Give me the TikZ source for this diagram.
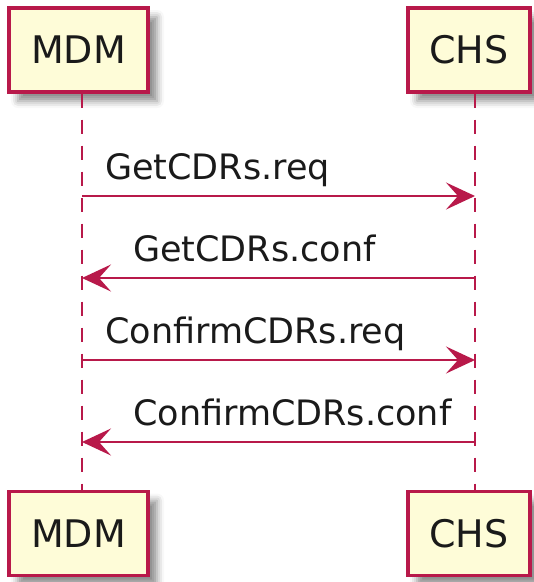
\documentclass[tikz,border=0pt]{standalone}
\usepackage{fontspec}
\setmainfont{DejaVu Sans}
\usetikzlibrary{arrows.meta,shadows.blur}
\definecolor{umlred}{HTML}{B8194A}
\definecolor{umlfill}{HTML}{FEFCD8}
\definecolor{umltext}{HTML}{1A1A1A}
\tikzset{
  participant/.style={draw=umlred, line width=3.2pt, fill=umlfill,
    minimum width=139pt, minimum height=84pt, inner sep=0pt,
    text=umltext, font=\fontsize{38}{44}\selectfont,
    blur shadow={shadow xshift=9pt, shadow yshift=-9pt, shadow blur radius=7pt, shadow opacity=45}},
  lifeline/.style={draw=umlred, line width=2.2pt, dash pattern=on 14pt off 12pt},
  msg/.style={draw=umlred, line width=2.6pt,
    -{Stealth[length=29pt, width=27pt, inset=12pt]}},
  msglabel/.style={anchor=base west, inner sep=0pt, text=umltext,
    font=\fontsize{35}{40}\selectfont}
}
\begin{document}
\begin{tikzpicture}[x=1pt, y=-1pt]
  \useasboundingbox (0,0) rectangle (534,582);

  % participants, top and bottom
  \node[participant] (mdmTop) at (78.5,50) {MDM};
  \node[participant, minimum width=122pt] (chsTop) at (469,50) {CHS};
  \node[participant] (mdmBot) at (78.5,533.5) {MDM};
  \node[participant, minimum width=122pt] (chsBot) at (469,533.5) {CHS};

  % lifeline positions
  \coordinate (mdmLine) at (82,0);
  \coordinate (chsLine) at (475,0);

  \draw[lifeline] (mdmLine |- mdmTop.south) -- (mdmLine |- mdmBot.north);
  \draw[lifeline] (chsLine |- chsTop.south) -- (chsLine |- chsBot.north);

  % messages
  \draw[msg] (mdmLine |- 0,196) -- (chsLine |- 0,196);
  \node[msglabel] (l1) at (105,179) {GetCDRs.req};

  \draw[msg] (chsLine |- 0,278) -- (mdmLine |- 0,278);
  \node[msglabel] (l2) at (133,261) {GetCDRs.conf};

  \draw[msg] (mdmLine |- 0,360) -- (chsLine |- 0,360);
  \node[msglabel] (l3) at (105,343) {ConfirmCDRs.req};

  \draw[msg] (chsLine |- 0,442) -- (mdmLine |- 0,442);
  \node[msglabel] (l4) at (133,425) {ConfirmCDRs.conf};
\end{tikzpicture}
\end{document}
